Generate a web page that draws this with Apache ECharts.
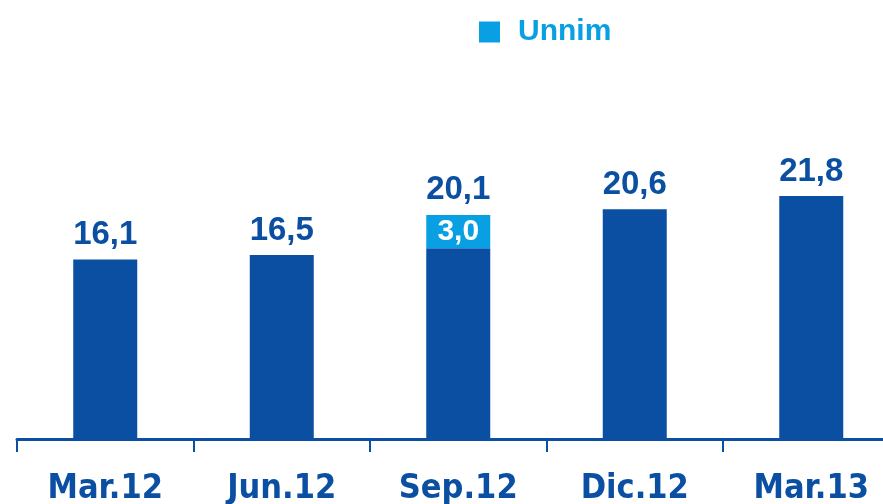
<!DOCTYPE html>
<html>
<head>
<meta charset="utf-8">
<script src="https://cdn.jsdelivr.net/npm/echarts@6/dist/echarts.min.js"></script>
<style>
  html, body { margin: 0; padding: 0; background: #fff; }
  #chart { width: 883px; height: 504px; }
</style>
</head>
<body>
<div id="chart"></div>
<script>
const categories = ['Mar.12', 'Jun.12', 'Sep.12', 'Dic.12', 'Mar.13'];
const baseValues = [16.1, 16.5, 17.1, 20.6, 21.8];
const unnimValues = ['-', '-', 3.0, '-', '-'];

const darkBlue = '#0B4FA3';
const lightBlue = '#08A0E2';

const fmt = (v) => v.toFixed(1).replace('.', ',');
const totals = baseValues.map((v, i) => v + (typeof unnimValues[i] === 'number' ? unnimValues[i] : 0));

const option = {
  animation: false,
  legend: {
    data: ['Unnim'],
    left: 474,
    top: 12,
    icon: 'rect',
    itemWidth: 21,
    itemHeight: 21,
    textStyle: {
      color: lightBlue,
      fontSize: 30,
      fontWeight: 'bold',
      fontFamily: 'Liberation Sans',
      padding: [0, 0, 0, 13],
    },
  },
  grid: {
    left: 17,
    width: 882.5,
    top: 104.5,
    bottom: 65,
    outerBoundsMode: 'none',
  },
  xAxis: {
    type: 'category',
    data: categories,
    axisLine: { lineStyle: { color: darkBlue, width: 3 } },
    axisTick: { show: true, length: 13, lineStyle: { color: darkBlue, width: 2 } },
    axisLabel: {
      interval: 0,
      color: darkBlue,
      fontSize: 34,
      fontWeight: 'bold',
      fontFamily: 'DejaVu Sans Condensed, sans-serif',
      margin: 33,
    },
  },
  yAxis: {
    type: 'value',
    min: 0,
    max: 30,
    show: false,
    splitLine: { show: false },
  },
  series: [
    {
      name: 'Base',
      type: 'bar',
      stack: 'total',
      barWidth: 64,
      itemStyle: { color: darkBlue },
      data: baseValues,
    },
    {
      name: 'Unnim',
      type: 'bar',
      stack: 'total',
      itemStyle: { color: lightBlue },
      label: {
        show: true,
        position: 'inside',
        color: '#fff',
        fontSize: 30,
        fontWeight: 'bold',
        fontFamily: 'Liberation Sans',
        formatter: (p) => fmt(p.value),
      },
      data: unnimValues,
    },
    {
      name: 'Total',
      type: 'bar',
      stack: 'total',
      itemStyle: { color: 'transparent' },
      label: {
        show: true,
        position: 'top',
        distance: 8,
        color: darkBlue,
        fontSize: 33,
        fontWeight: 'bold',
        fontFamily: 'Liberation Sans',
        formatter: (p) => fmt(totals[p.dataIndex]),
      },
      data: totals.map(() => 0),
    },
  ],
};

const chart = echarts.init(document.getElementById('chart'));
chart.setOption(option);
</script>
</body>
</html>
